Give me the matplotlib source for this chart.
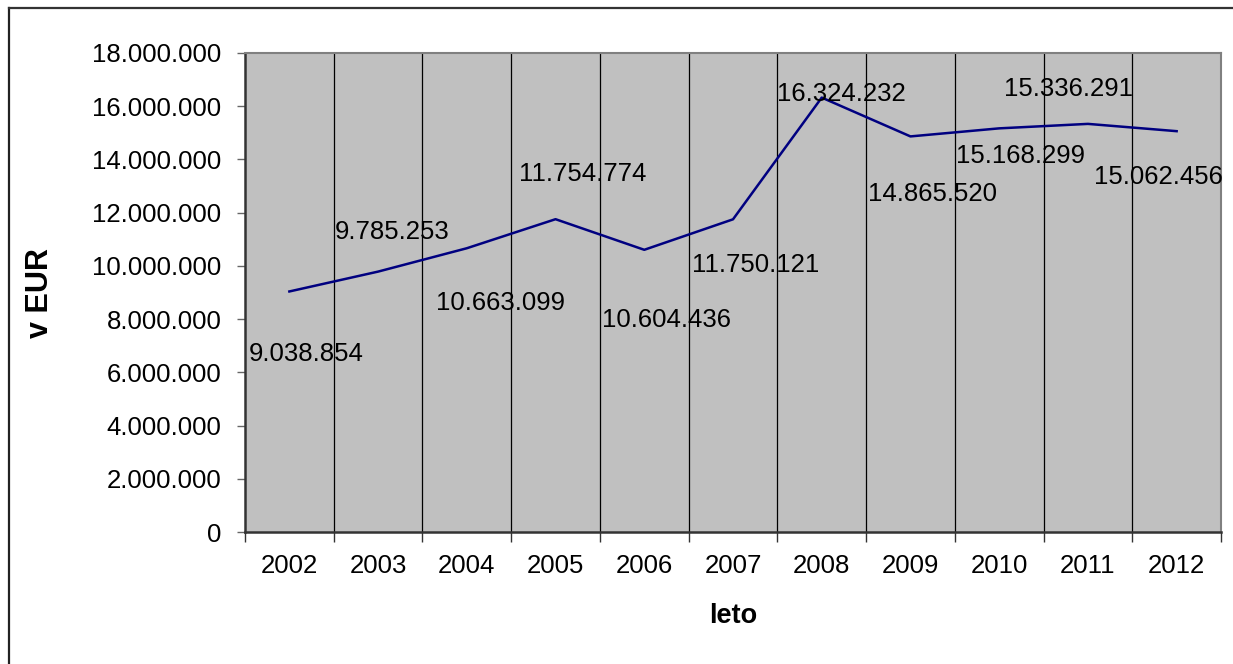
import matplotlib
matplotlib.use("Agg")
import matplotlib.pyplot as plt
from matplotlib.ticker import FuncFormatter, FixedLocator
from matplotlib.lines import Line2D

years = ["2002", "2003", "2004", "2005", "2006", "2007", "2008", "2009", "2010", "2011", "2012"]
values = [9038854, 9785253, 10663099, 11754774, 10604436, 11750121,
          16324232, 14865520, 15168299, 15336291, 15062456]
# label offsets in pixels (dx right, dy down) from each point
label_dx = [17, 14, 34, 27, 22, 23, 20, 22, 21, -19, -18]
label_dy = [63, -40, 55, -45, 70, 46, -4, 58, 28, -35, 46]

plt.rcParams['font.family'] = ['Liberation Sans', 'DejaVu Sans']

W, H = 1233, 664
FS = 18.5
fig = plt.figure(figsize=(W / 100, H / 100), dpi=100)
ax = fig.add_axes([245 / W, 1 - 532 / H, (1221 - 245) / W, (532 - 53) / H])

def fmt(v):
    return f"{int(v):,}".replace(",", ".")

x = list(range(len(years)))
ax.set_facecolor("#C0C0C0")
ax.plot(x, values, color="#000080", lw=1.8, zorder=3)
ax.set_xlim(-0.5, len(years) - 0.5)
ax.set_ylim(0, 18000000)

# vertical gridlines at category boundaries
bounds = [i + 0.5 for i in range(len(years) - 1)]
for b in bounds:
    ax.axvline(b, color="black", lw=0.9, zorder=1)

ax.set_xticks(x)
ax.set_xticklabels(years, fontsize=FS)
ax.xaxis.set_minor_locator(FixedLocator([-0.5] + bounds + [len(years) - 0.5]))
ax.tick_params(axis='x', which='major', length=0, pad=16)
ax.tick_params(axis='x', which='minor', length=7, width=1, color="#333333", direction='out')

ax.set_yticks(range(0, 18000001, 2000000))
ax.yaxis.set_major_formatter(FuncFormatter(lambda v, p: fmt(v)))
ax.tick_params(axis='y', length=6, width=1, color="#666666", direction='out', pad=11, labelsize=FS)

for side in ["top", "right"]:
    ax.spines[side].set_color("#808080")
    ax.spines[side].set_linewidth(1.5)
for side in ["left", "bottom"]:
    ax.spines[side].set_color("#333333")
    ax.spines[side].set_linewidth(1.8)

for i, v in enumerate(values):
    ax.annotate(fmt(v), (i, v), xytext=(label_dx[i] * 0.72, -label_dy[i] * 0.72),
                textcoords='offset points', ha='center', va='center',
                fontsize=FS, color="black", zorder=4)

fig.text(40 / W, 1 - 293 / H, "v EUR", rotation=90, fontsize=22, fontweight='bold',
         ha='center', va='center')
fig.text(733 / W, 1 - 616 / H, "leto", fontsize=19.5, fontweight='bold',
         ha='center', va='center')

# outer border of the chart area (only left and top edges fall inside the image)
xb, yb = 8.5 / W, 1 - 7.5 / H
fig.lines.append(Line2D([xb, xb], [0, yb], transform=fig.transFigure, color="#222222", lw=1.6))
fig.lines.append(Line2D([xb, 1], [yb, yb], transform=fig.transFigure, color="#333333", lw=1.6))

fig.savefig("out.png", dpi=100)
